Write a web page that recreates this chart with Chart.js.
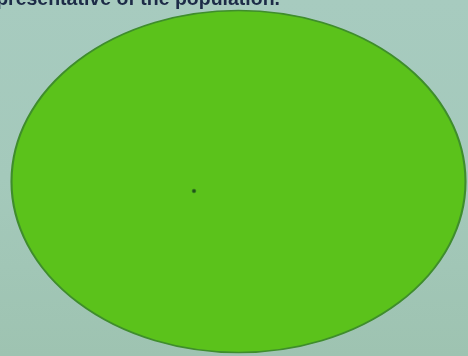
<!DOCTYPE html>
<html>
<head>
<meta charset="utf-8">
<script src="https://cdn.jsdelivr.net/npm/chart.js@4"></script>
<style>
  html, body { margin: 0; padding: 0; }
  body { width: 468px; height: 356px; overflow: hidden; position: relative;
         background: linear-gradient(180deg, #a7cbbf 0%, #a4c9bb 50%, #9ec3b1 100%); }
  #cap { position: absolute; right: 188px; top: -12px; white-space: nowrap;
         font-family: "Liberation Sans", Arial, sans-serif; font-weight: bold;
         font-size: 19.5px; line-height: 20px; color: #1d2b47; filter: blur(0.6px); }
  canvas { position: absolute; left: 0; top: 0; }
</style>
</head>
<body>
<div id="cap">representative of the population.</div>
<canvas id="c" width="468" height="356"></canvas>
<script>
// Illustration: a population (large ellipse) and a single sampled member (dot)
const labels   = ['Population', 'Sample member'];
const xValues  = [238.5, 194];   // horizontal position in picture units
const yValues  = [181.5, 191];   // vertical position in picture units
const rValues  = [171, 1.8];     // bubble radius
const stretchX = [227 / 171, 1]; // horizontal stretch of each mark (ellipse)

const stretchPlugin = {
  id: 'stretch',
  beforeDatasetDraw(chart, args) {
    const s = stretchX[args.index];
    const el = chart.getDatasetMeta(args.index).data[0];
    const ctx = chart.ctx;
    ctx.save();
    ctx.translate(el.x, 0);
    ctx.scale(s, 1);
    ctx.translate(-el.x, 0);
  },
  afterDatasetDraw(chart) { chart.ctx.restore(); }
};

new Chart(document.getElementById('c'), {
  type: 'bubble',
  data: {
    datasets: [
      {
        label: labels[0],
        data: [{ x: xValues[0], y: yValues[0], r: rValues[0] }],
        backgroundColor: '#5bc21b',
        borderColor: '#3f8d2c',
        borderWidth: 1.6,
        hoverRadius: 0,
        order: 2
      },
      {
        label: labels[1],
        data: [{ x: xValues[1], y: yValues[1], r: rValues[1] }],
        backgroundColor: '#21531a',
        borderColor: '#2f7420',
        borderWidth: 0.8,
        hoverRadius: 0,
        order: 1
      }
    ]
  },
  options: {
    responsive: false,
    animation: false,
    devicePixelRatio: 1,
    layout: { padding: 0, autoPadding: false },
    plugins: { legend: { display: false }, tooltip: { enabled: false } },
    scales: {
      x: { type: 'linear', min: 0, max: 468, display: false },
      y: { type: 'linear', min: 0, max: 356, reverse: true, display: false }
    },
    clip: false
  },
  plugins: [stretchPlugin]
});
</script>
</body>
</html>
